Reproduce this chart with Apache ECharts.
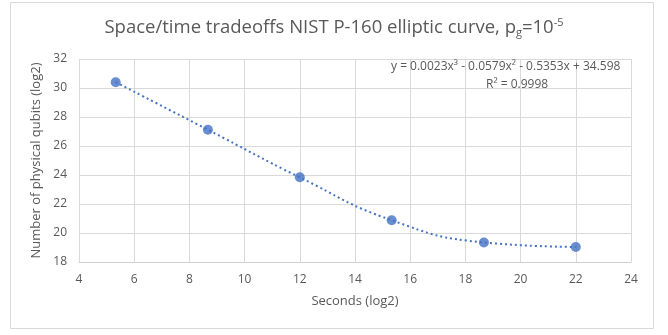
<!DOCTYPE html>
<html>
<head>
<meta charset="utf-8">
<script src="https://cdn.jsdelivr.net/npm/echarts@6/dist/echarts.min.js"></script>
<style>
  html, body { margin: 0; padding: 0; background: #fff; }
  #main { width: 668px; height: 335px; }
</style>
</head>
<body>
<div id="main"></div>
<script>
// 数据
var seconds = [5.33, 8.67, 12, 15.33, 18.67, 22];
var qubits = [30.4, 27.12, 23.84, 20.88, 19.35, 19.04];
var xTicks = [4, 24, 2];   // min, max, interval
var yTicks = [18, 32, 2];
var equation = 'y = 0.0023x³ - 0.0579x² - 0.5353x + 34.598';
var rSquared = 'R² = 0.9998';

var pts = seconds.map(function (x, i) { return [x, qubits[i]]; });

var myChart = echarts.init(document.getElementById('main'));
var grey = '#595959';
var font = 'Open Sans';

var option = {
    backgroundColor: '#fff',
    animation: false,
    title: {
        text: 'Space/time tradeoffs NIST P-160 elliptic curve, p{sub|g}=10{sup|-5}',
        left: 'center',
        top: 12,
        textStyle: {
            color: grey,
            fontFamily: font,
            fontWeight: 'normal',
            fontSize: 18.5,
            rich: {
                sub: { fontSize: 11, color: grey, fontFamily: font, padding: [10, 0, 0, 0] },
                sup: { fontSize: 11, color: grey, fontFamily: font, padding: [0, 0, 10, 0] }
            }
        }
    },
    graphic: [
        {
            type: 'rect',
            shape: { x: 10.5, y: 2.5, width: 643, height: 326 },
            style: { fill: 'none', stroke: '#d9d9d9', lineWidth: 1 },
            silent: true
        },
        {
            type: 'text',
            left: 391, top: 61,
            style: { text: equation, fill: grey, font: '12px "Open Sans"' },
            z: 10
        },
        {
            type: 'text',
            left: 486, top: 79,
            style: { text: rSquared, fill: grey, font: '12px "Open Sans"' },
            z: 10
        }
    ],
    grid: { left: 79, right: 37, top: 59, bottom: 73 },
    xAxis: {
        type: 'value',
        min: xTicks[0], max: xTicks[1], interval: xTicks[2],
        name: 'Seconds (log2)',
        nameLocation: 'middle',
        nameGap: 33,
        nameTextStyle: { color: grey, fontFamily: font, fontSize: 13 },
        axisLine: { show: true, onZero: false, lineStyle: { color: '#d0d0d0' } },
        axisTick: { show: false },
        axisLabel: { color: grey, fontFamily: font, fontSize: 12, margin: 12 },
        splitLine: { show: true, lineStyle: { color: '#d9d9d9' } }
    },
    yAxis: {
        type: 'value',
        min: yTicks[0], max: yTicks[1], interval: yTicks[2],
        name: 'Number of physical qubits (log2)',
        nameLocation: 'middle',
        nameGap: 29,
        nameTextStyle: { color: grey, fontFamily: font, fontSize: 13 },
        axisLine: { show: false },
        axisTick: { show: false },
        axisLabel: { color: grey, fontFamily: font, fontSize: 12, margin: 12 },
        splitLine: { show: true, lineStyle: { color: '#d9d9d9' } }
    },
    series: [
        {
            // 趋势线
            type: 'line',
            data: pts,
            smooth: 0.5,
            symbol: 'none',
            lineStyle: { color: '#4472C4', width: 2, type: [2, 3] },
            z: 2
        },
        {
            type: 'scatter',
            data: pts,
            symbolSize: 10,
            itemStyle: { color: '#4472C4' },
            z: 3
        }
    ]
};
myChart.setOption(option);
</script>
</body>
</html>
